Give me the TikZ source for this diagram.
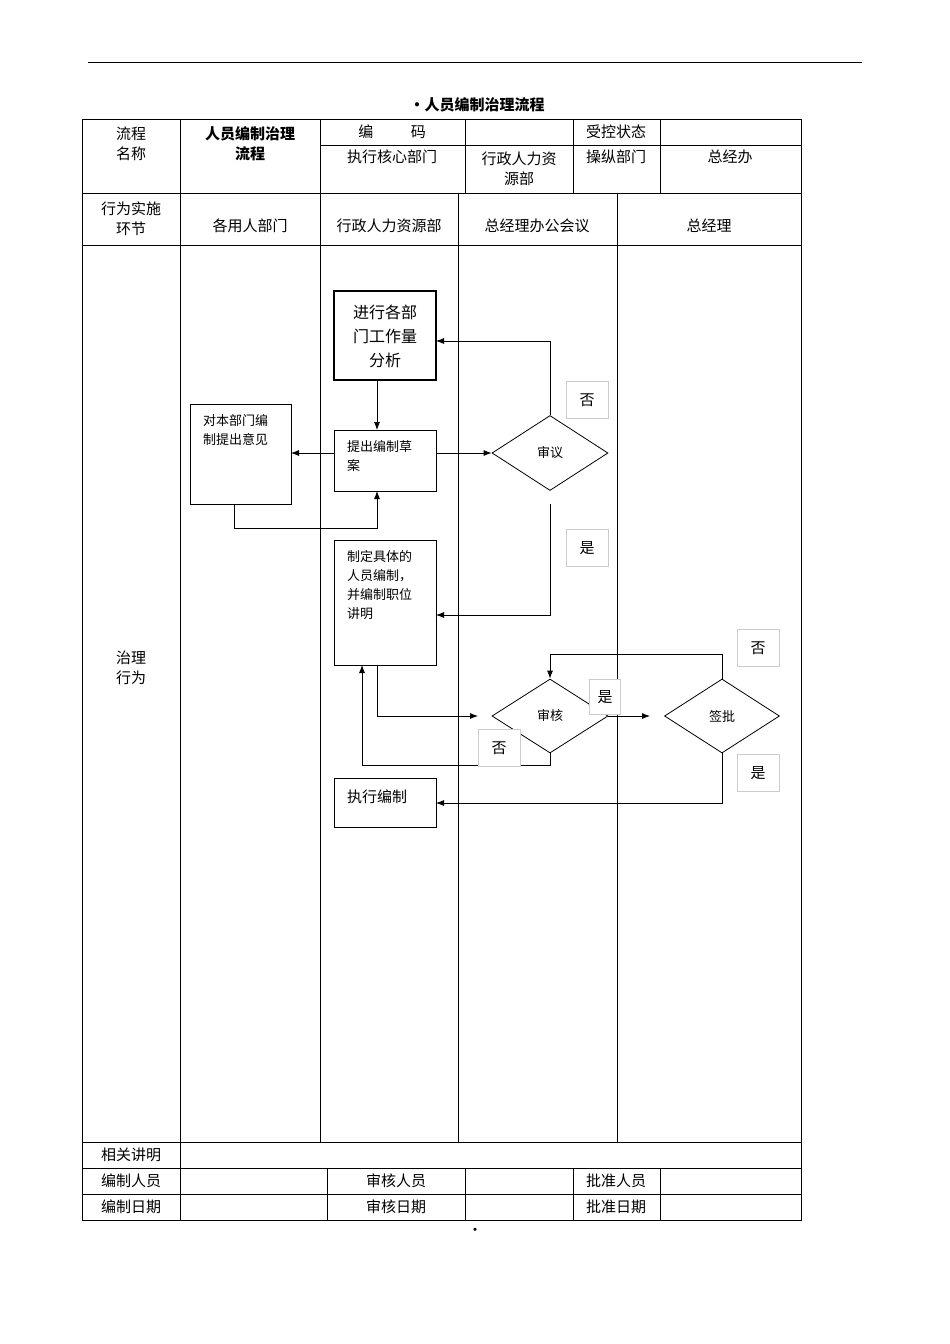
\documentclass[tikz,border=0pt]{standalone}
\usepackage{fontspec}
\setmainfont{Noto Sans CJK SC}
\usetikzlibrary{arrows.meta,shapes.geometric}
\begin{document}
\begin{tikzpicture}[x=1pt,y=-1pt,
 tx/.style={font=\fontsize{15}{20}\selectfont,align=center,inner sep=0},
 sm/.style={font=\fontsize{13}{19}\selectfont,align=left,inner sep=0,anchor=north west},
 box/.style={draw,thick,minimum width=0},
 lbl/.style={draw=black!20,fill=white,font=\fontsize{15}{18}\selectfont,inner sep=0,minimum width=42pt,minimum height=37pt},
 arr/.style={thick,-{Latex[length=8pt,width=6pt]}},
 ln/.style={thick}]
\useasboundingbox (0,0) rectangle (950,1344);
\draw[thick] (88,62) -- (862,62);
\node[tx,font=\fontsize{15}{18}\selectfont\bfseries] (title) at (477,105) {·人员编制治理流程};
\node[tx] (dot) at (475,1232) {·};
% table
\draw (82,119) rectangle (801,1220);
\foreach \y in {193,245,1142,1168,1194} \draw (82,\y) -- (801,\y);
\draw (320,145) -- (801,145);
\foreach \x in {180,320} \draw (\x,119) -- (\x,193);
\foreach \x in {465,573,660} \draw (\x,119) -- (\x,193);
\foreach \x in {180,320,458,617} \draw (\x,193) -- (\x,1142);
\draw (180,1142) -- (180,1220);
\foreach \x in {327,465,573,660} \draw (\x,1168) -- (\x,1220);
\node[tx] (h1) at (131,144) {流程\\名称};
\node[tx,font=\fontsize{15}{20}\selectfont\bfseries] (h2) at (250,144) {人员编制治理\\流程};
\node[tx] (h3) at (392,132) {编\hspace{2.5em}码};
\node[tx] (h4) at (616,132) {受控状态};
\node[tx] (h5) at (392,157) {执行核心部门};
\node[tx] (h6) at (519,169) {行政人力资\\源部};
\node[tx] (h7) at (616,157) {操纵部门};
\node[tx] (h8) at (730,157) {总经办};
\node[tx] (l1) at (131,219) {行为实施\\环节};
\node[tx] (l2) at (250,226) {各用人部门};
\node[tx] (l3) at (389,226) {行政人力资源部};
\node[tx] (l4) at (537,226) {总经理办公会议};
\node[tx] (l5) at (709,226) {总经理};
\node[tx] (l6) at (131,668) {治理\\行为};
\node[tx] (b1) at (131,1155) {相关讲明};
\node[tx] (b2) at (131,1181) {编制人员};
\node[tx] (b3) at (396,1181) {审核人员};
\node[tx] (b4) at (616,1181) {批准人员};
\node[tx] (b5) at (131,1207) {编制日期};
\node[tx] (b6) at (396,1207) {审核日期};
\node[tx] (b7) at (616,1207) {批准日期};
% flow nodes
\draw[line width=2.2pt] (334,291) rectangle (436,380);
\node[tx,font=\fontsize{16}{24}\selectfont] (A) at (385,336) {进行各部\\门工作量\\分析};
\coordinate (Ae) at (436,341); \coordinate (Ab) at (377,380);
\draw[thick] (334,430) rectangle (436,491);
\node[sm] (B) at (347,440) {提出编制草\\案};
\coordinate (Bt) at (377,430); \coordinate (Be) at (436,453); \coordinate (Bw) at (334,453); \coordinate (Bb) at (377,491);
\draw[thick] (190,404) rectangle (291,504);
\node[sm] (C) at (203,414) {对本部门编\\制提出意见};
\coordinate (Ce) at (291,453); \coordinate (Cb) at (234,504);
\node[draw,thick,diamond,aspect=1.55,minimum width=116pt,minimum height=75pt,inner sep=0] (D1) at (550,453) {};
\node[font=\fontsize{13}{16}\selectfont] at (D1) {审议};
\draw[thick] (334,540) rectangle (436,665);
\node[sm] (E) at (347,550) {制定具体的\\人员编制，\\并编制职位\\讲明};
\coordinate (Ee) at (436,615); \coordinate (Eb1) at (377,665); \coordinate (Eb2) at (362,665);
\node[draw,thick,diamond,aspect=1.55,minimum width=116pt,minimum height=74pt,inner sep=0] (D2) at (550,716) {};
\node[font=\fontsize{13}{16}\selectfont] at (D2) {审核};
\node[draw,thick,diamond,aspect=1.55,minimum width=115pt,minimum height=74pt,inner sep=0] (D3) at (722,716) {};
\node[font=\fontsize{13}{16}\selectfont] at (D3) {签批};
\draw[thick] (334,778) rectangle (436,827);
\node[tx,anchor=west] (F) at (347,797) {执行编制};
\coordinate (Fe) at (436,803);
% connectors
\draw[arr] (Ab) -- (Bt);
\draw[arr] (D1.north) -- (550,341) -- (Ae);
\draw[arr] (Be) -- (D1.west);
\draw[arr] (Bw) -- (Ce);
\draw[arr] (Cb) -- (234,528) -- (377,528) -- (Bb);
\draw[arr] (550,504) -- (550,615) -- (Ee);
\draw[arr] (Eb1) -- (377,716) -- (478,716);
\draw[arr] (D2.east) -- (650,716);
\draw[arr] (D3.north) -- (722,654) -- (550,654) -- (D2.north);
\draw[arr] (D2.south) -- (550,765) -- (362,765) -- (Eb2);
\draw[arr] (D3.south) -- (722,803) -- (Fe);
% labels
\node[lbl] (n1) at (587,400) {否};
\node[lbl] (y1) at (587,548) {是};
\node[lbl] (n2) at (758,648) {否};
\node[lbl,minimum width=31pt,minimum height=35pt] (y2) at (605,697) {是};
\node[lbl] (n3) at (499,748) {否};
\node[lbl] (y3) at (758,773) {是};
\end{tikzpicture}
\end{document}
